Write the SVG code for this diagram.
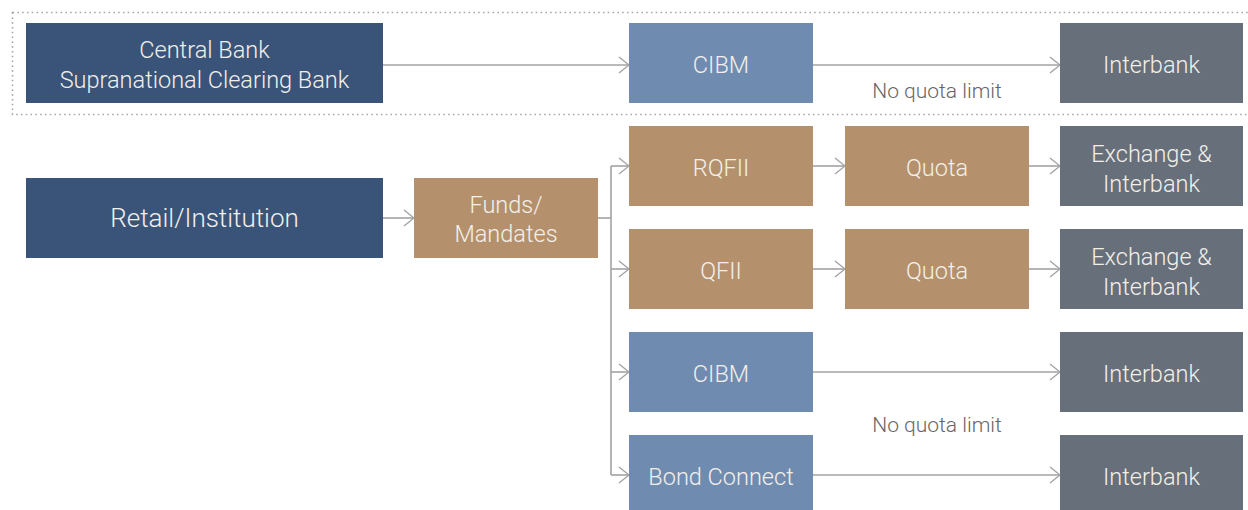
<svg xmlns="http://www.w3.org/2000/svg" width="1248" height="510" viewBox="0 0 1248 510">
  <defs>
    <marker id="chev" markerWidth="12" markerHeight="18" refX="11" refY="9" orient="auto" markerUnits="userSpaceOnUse">
      <path d="M1,1 L11,9 L1,17" fill="none" stroke="#A3A3A3" stroke-width="1.4"/>
    </marker>
  </defs>
  <style>
    .lbl { font-family: Roboto, "Liberation Sans", sans-serif; font-weight: 300; font-size: 23.5px; fill: #F2EFEA; text-anchor: middle; }
    .big { font-size: 26px; }
    .note { font-family: Roboto, "Liberation Sans", sans-serif; font-weight: 300; font-size: 21px; fill: #666666; text-anchor: middle; }
    .navy { fill: #3A5479; }
    .steel { fill: #6F8CB0; }
    .tan { fill: #B4916C; }
    .slate { fill: #676F7A; }
    .edge { fill: none; stroke: #A3A3A3; stroke-width: 1.6; }
  </style>

  <!-- dotted frame around the central-bank lane -->
  <rect x="12.5" y="12.5" width="1250" height="102" fill="none" stroke="#A8A8A8" stroke-width="1.6" stroke-dasharray="1.6 3.2"/>

  <g id="connectors">
    <path class="edge" d="M383,65 H629" marker-end="url(#chev)"/>
    <path class="edge" d="M813,65 H1060" marker-end="url(#chev)"/>
    <path class="edge" d="M383,218 H414" marker-end="url(#chev)"/>
    <path class="edge" d="M598,218 H611"/>
    <path class="edge" d="M611,166 V475"/>
    <path class="edge" d="M611,166 H629" marker-end="url(#chev)"/>
    <path class="edge" d="M611,269 H629" marker-end="url(#chev)"/>
    <path class="edge" d="M611,372 H629" marker-end="url(#chev)"/>
    <path class="edge" d="M611,475 H629" marker-end="url(#chev)"/>
    <path class="edge" d="M813,166 H845" marker-end="url(#chev)"/>
    <path class="edge" d="M813,269 H845" marker-end="url(#chev)"/>
    <path class="edge" d="M1029,166 H1060" marker-end="url(#chev)"/>
    <path class="edge" d="M1029,269 H1060" marker-end="url(#chev)"/>
    <path class="edge" d="M813,372 H1060" marker-end="url(#chev)"/>
    <path class="edge" d="M813,475 H1060" marker-end="url(#chev)"/>
  </g>

  <text class="note" x="937" y="98">No quota limit</text>
  <text class="note" x="937" y="432">No quota limit</text>

  <g id="central-bank">
    <rect class="navy" x="26" y="23" width="357" height="80"/>
    <text class="lbl" x="204.5" y="58">Central Bank</text>
    <text class="lbl" x="204.5" y="88">Supranational Clearing Bank</text>
  </g>
  <g id="cibm-top">
    <rect class="steel" x="629" y="23" width="184" height="80"/>
    <text class="lbl" x="721" y="73">CIBM</text>
  </g>
  <g id="interbank-top">
    <rect class="slate" x="1060" y="23" width="183" height="80"/>
    <text class="lbl" x="1151.5" y="73">Interbank</text>
  </g>

  <g id="retail">
    <rect class="navy" x="26" y="178" width="357" height="80"/>
    <text class="lbl big" x="204.5" y="227">Retail/Institution</text>
  </g>
  <g id="funds">
    <rect class="tan" x="414" y="178" width="184" height="80"/>
    <text class="lbl" x="506" y="213">Funds/</text>
    <text class="lbl" x="506" y="242">Mandates</text>
  </g>

  <g id="rqfii">
    <rect class="tan" x="629" y="126" width="184" height="80"/>
    <text class="lbl" x="721" y="176">RQFII</text>
  </g>
  <g id="quota-rqfii">
    <rect class="tan" x="845" y="126" width="184" height="80"/>
    <text class="lbl" x="937" y="176">Quota</text>
  </g>
  <g id="exchange-rqfii">
    <rect class="slate" x="1060" y="126" width="183" height="80"/>
    <text class="lbl" x="1151.5" y="162">Exchange &amp;</text>
    <text class="lbl" x="1151.5" y="192">Interbank</text>
  </g>

  <g id="qfii">
    <rect class="tan" x="629" y="229" width="184" height="80"/>
    <text class="lbl" x="721" y="279">QFII</text>
  </g>
  <g id="quota-qfii">
    <rect class="tan" x="845" y="229" width="184" height="80"/>
    <text class="lbl" x="937" y="279">Quota</text>
  </g>
  <g id="exchange-qfii">
    <rect class="slate" x="1060" y="229" width="183" height="80"/>
    <text class="lbl" x="1151.5" y="265">Exchange &amp;</text>
    <text class="lbl" x="1151.5" y="295">Interbank</text>
  </g>

  <g id="cibm-lower">
    <rect class="steel" x="629" y="332" width="184" height="80"/>
    <text class="lbl" x="721" y="382">CIBM</text>
  </g>
  <g id="interbank-cibm">
    <rect class="slate" x="1060" y="332" width="183" height="80"/>
    <text class="lbl" x="1151.5" y="382">Interbank</text>
  </g>

  <g id="bond-connect">
    <rect class="steel" x="629" y="435" width="184" height="80"/>
    <text class="lbl" x="721" y="485">Bond Connect</text>
  </g>
  <g id="interbank-bond">
    <rect class="slate" x="1060" y="435" width="183" height="80"/>
    <text class="lbl" x="1151.5" y="485">Interbank</text>
  </g>
</svg>
